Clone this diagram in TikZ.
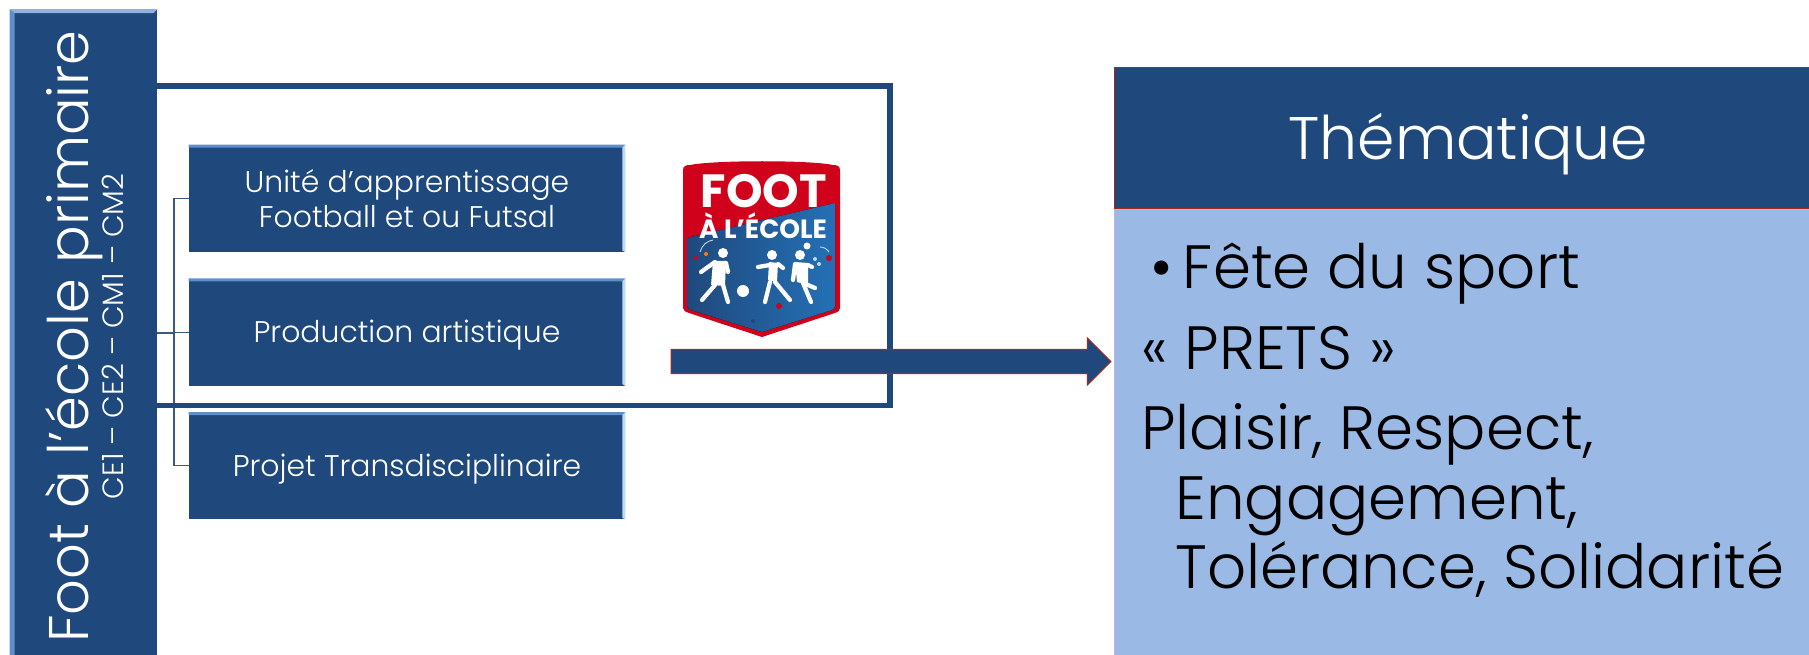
\documentclass[tikz,border=0pt]{standalone}
\usepackage{fontspec}
\setmainfont{Poppins}[UprightFont=* Light,BoldFont=* Bold]
\usetikzlibrary{shapes,arrows,positioning}
\definecolor{marine}{HTML}{1F497D}
\definecolor{biseau}{HTML}{5F8FCB}
\definecolor{clair}{HTML}{BBD8F8}
\definecolor{ciel}{HTML}{9ABAE5}
\definecolor{brique}{HTML}{A8281C}
\definecolor{rouge}{HTML}{D0021B}
\definecolor{azur}{HTML}{2470B5}
\tikzset{
	pave/.style={rectangle,fill=marine,inner sep=0pt,text=white,align=center,
		minimum width=8.72cm,minimum height=2.14cm,font=\fontsize{17}{19.7}\selectfont},
	trait/.style={draw=marine!70!gray,line width=0.6pt},
	gamin/.style={draw=white,line width=2.4pt,line cap=round,line join=round}
}
\begin{document}
\begin{tikzpicture}[x=0.02cm,y=-0.02cm]
\useasboundingbox (0,0) rectangle (1809,655);
\node[rectangle,fill=marine,inner sep=0pt,minimum width=2.94cm,minimum height=13.1cm] (root) at (83.5,337) {};
\fill[biseau] (root.north west) -- (root.south west) -- ++(5,0) -- ([shift={(5,4)}]root.north west) -- cycle;
\fill[biseau!70!white] (root.north west) -- (root.north east) -- ++(-4,4) -- ([shift={(5,4)}]root.north west) -- cycle;
\node[rotate=90,text=white,align=center,inner sep=0pt] (rootlabel) at (84.5,336.5) {\fontsize{31.8}{30}\selectfont Foot à l'école primaire\\[-1.6pt] \fontsize{16.7}{18}\selectfont CE1 -- CE2 -- CM1 -- CM2};
\node[pave] (unite) at (407,198.5) {Unité d'apprentissage\\Football et ou Futsal};
\node[pave,below=0.52cm of unite] (prod) {\raisebox{-0.21cm}[0pt][0pt]{Production artistique}};
\node[pave,below=0.52cm of prod] (projet) {\raisebox{-0.21cm}[0pt][0pt]{Projet Transdisciplinaire}};
\foreach \x in {unite,prod,projet} {
	\fill[biseau] (\x.north west) -- (\x.north east) -- ++(-3,3) -- ([shift={(0,3)}]\x.north west) -- cycle;
	\fill[clair] (\x.north east) -- (\x.south east) -- ++(-3,-2) -- ([shift={(-3,3)}]\x.north east) -- cycle;
}
\coordinate (trunk) at (174,333);
\draw[trait,line width=1pt] (root.east |- trunk) -- (trunk);
\draw[trait] (trunk |- unite.west) -- (trunk |- projet.west);
\foreach \x in {unite,prod,projet}
\draw[trait] (trunk |- \x.west) -- (\x.west);
\draw[marine,line width=3.2pt] (157,86) -- (890,86) -- (890,405.5) -- (147,405.5);

\fill[rouge] (683,170) .. controls (683,166) and (686,165) .. (690,165) .. controls (715,160) and (810,160) .. (833,165) .. controls (837,165) and (840,166) .. (840,170) -- (840,308) .. controls (840,311) and (838,312) .. (835,313) -- (762,337) -- (689,313) .. controls (686,312) and (683,311) .. (683,308) -- cycle;
\fill[left color=marine,right color=azur] (687,238) -- (835,203) -- (835,306) .. controls (835,308) and (834,309) .. (832,310) -- (762,332) -- (691,310) .. controls (689,309) and (687,308) .. (687,306) -- cycle;
\node[text=white,inner sep=0pt,font=\fontsize{26.5}{28}\bfseries\selectfont] (foot) at (764,191) {FOOT};
\node[text=white,inner sep=0pt,font=\fontsize{15}{16}\bfseries\selectfont] (ecole) at (763,226) {À L'ÉCOLE};
\fill[white] (723,253) circle[radius=5] (772,255) circle[radius=5] (800,255) circle[radius=5] (743,291) circle[radius=6] (807,246) circle[radius=3.5];
\fill[white] (713,261) -- (726,261) -- (725,286) -- (711,285) -- cycle;
\fill[white] (769,262) -- (778,263) -- (777,282) -- (768,280) -- cycle;
\fill[white] (795,262) -- (808,263) -- (808,285) -- (797,282) -- cycle;
\draw[gamin] (701,272) -- (715,262) (726,263) -- (728,272) (715,285) -- (702,300) (723,285) -- (728,302);
\draw[gamin] (758,267) -- (770,265) (778,264) -- (783,268) (770,282) -- (765,302) (775,282) -- (790,300);
\draw[gamin] (795,264) -- (793,280) (808,265) -- (812,267) (803,283) -- (811,302) (808,285) -- (815,288);
\fill[orange] (706,254) circle[radius=2];
\fill[rouge] (829,258) circle[radius=3] (779,306) circle[radius=3] (696,258) circle[radius=2];
\fill[clair] (815,259) circle[radius=2] (819,264) circle[radius=2];
\fill[marine] (753,321) circle[radius=2];
\draw[clair,line width=0.5pt] (700,252) .. controls (702,245) and (707,241) .. (713,240) (820,247) .. controls (824,247) and (827,249) .. (829,252);

\node[single arrow,fill=marine,draw=brique,line width=0.6pt,inner xsep=0pt,inner ysep=0.23cm,single arrow head extend=0.23cm,single arrow head indent=0pt,minimum height=8.8cm,minimum width=0.92cm] (fleche) at (885,361.5) {};

\node[rectangle,fill=marine,draw=brique,line width=0.6pt,inner sep=0pt,text=white,minimum width=14.1cm,minimum height=2.82cm,anchor=north west,font=\fontsize{34.2}{40}\selectfont] (theme) at (1114,67) {\hspace*{0.05cm}\raisebox{-0.42cm}[0pt][0pt]{Thématique}};
\node[rectangle,fill=ciel,draw=ciel!70!pink,line width=0.6pt,inner sep=0pt,minimum width=14.1cm,minimum height=8.94cm,below=0pt of theme] (corps) {};
\node[inner sep=0pt,align=left,anchor=north west,font=\fontsize{34.8}{39.5}\selectfont] (liste) at (1141,242.5) {\hspace*{0.18cm}\textbullet\,Fête du sport\\[6.5pt]
«~PRETS~»\\[6.5pt]
Plaisir, Respect,\\
\hspace*{0.68cm}Engagement,\\
\hspace*{0.68cm}Tolérance, Solidarité};
\end{tikzpicture}
\end{document}
